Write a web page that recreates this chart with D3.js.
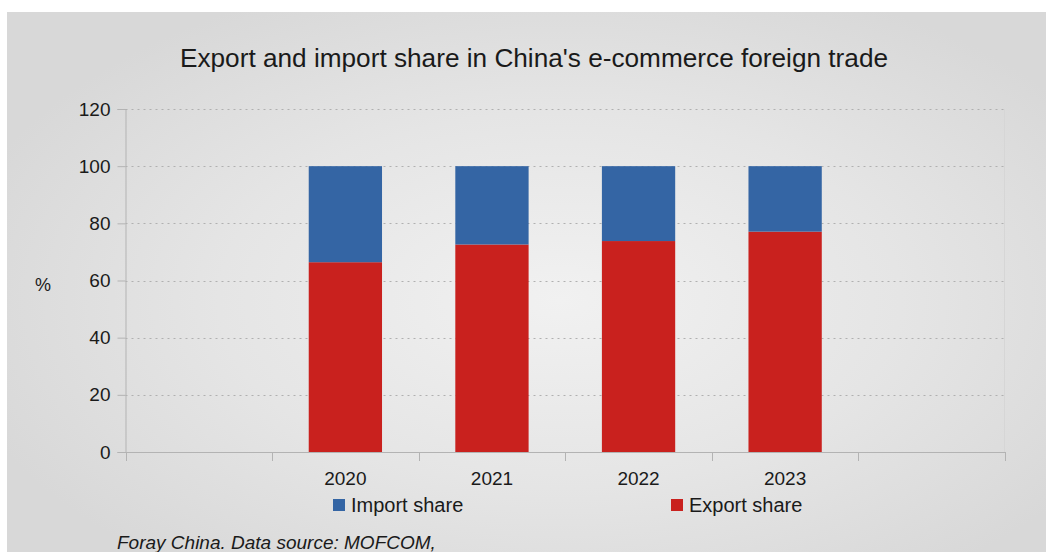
<!DOCTYPE html>
<html>
<head>
<meta charset="utf-8">
<script src="https://cdn.jsdelivr.net/npm/d3@7"></script>
<style>
  html, body { margin: 0; padding: 0; background: #ffffff; }
  svg { display: block; font-family: "Liberation Sans", Arial, sans-serif; }
</style>
</head>
<body>
<svg id="chart" width="1046" height="552"></svg>
<script>
// Category slots along the x axis (the outer slots stay empty)
const categories = ["", "2020", "2021", "2022", "2023", ""];
// Share of e-commerce foreign trade, %
const exportShare = [null, 66.4, 72.6, 73.8, 77.1, null];
const importShare = [null, 33.6, 27.4, 26.2, 22.9, null];
const yTicks = [0, 20, 40, 60, 80, 100, 120];
const seriesNames = ["Import share", "Export share"];
const seriesColors = ["#3465a4", "#c9211e"];

const svg = d3.select("#chart");
const W = 1046, H = 552;
const plot = { left: 125.5, right: 1005, top: 109, bottom: 452 };

const defs = svg.append("defs");
const bgGrad = defs.append("radialGradient")
  .attr("id", "bgGrad")
  .attr("gradientUnits", "userSpaceOnUse")
  .attr("cx", 560).attr("cy", 300).attr("r", 620)
  .attr("gradientTransform", "translate(560,300) scale(1,0.55) translate(-560,-300)");
bgGrad.append("stop").attr("offset", "0%").attr("stop-color", "#f1f1f1");
bgGrad.append("stop").attr("offset", "55%").attr("stop-color", "#e5e5e5");
bgGrad.append("stop").attr("offset", "100%").attr("stop-color", "#d8d8d8");

// Page background panel
svg.append("rect")
  .attr("x", 7).attr("y", 12)
  .attr("width", W - 7).attr("height", H - 12)
  .attr("fill", "url(#bgGrad)");

// Plot area
const x = d3.scaleBand()
  .domain(d3.range(categories.length))
  .range([plot.left, plot.right])
  .paddingInner(0).paddingOuter(0);

const y = d3.scaleLinear()
  .domain([0, 120])
  .range([plot.bottom, plot.top]);

// Horizontal dotted grid
svg.append("g")
  .selectAll("line")
  .data(yTicks.filter(d => d > 0))
  .join("line")
  .attr("x1", plot.left).attr("x2", plot.right)
  .attr("y1", d => Math.round(y(d)) + 0.5).attr("y2", d => Math.round(y(d)) + 0.5)
  .attr("stroke", "#b0b0b0")
  .attr("stroke-width", 1)
  .attr("stroke-dasharray", "2,4");

// Right plot border
svg.append("line")
  .attr("x1", plot.right - 0.5).attr("x2", plot.right - 0.5)
  .attr("y1", plot.top).attr("y2", plot.bottom)
  .attr("stroke", "#d6d6d6").attr("stroke-width", 1);

// Stacked bars
const stackData = categories.map((c, i) => ({ i, exp: exportShare[i], imp: importShare[i] }))
  .filter(d => d.exp != null);
const stack = d3.stack().keys(["exp", "imp"]);
const layers = stack(stackData);
const barW = x.bandwidth() * 0.5;

svg.append("g")
  .selectAll("g")
  .data(layers)
  .join("g")
  .attr("fill", (d, k) => k === 0 ? seriesColors[1] : seriesColors[0])
  .selectAll("rect")
  .data(d => d)
  .join("rect")
  .attr("x", d => x(d.data.i) + (x.bandwidth() - barW) / 2)
  .attr("y", d => y(d[1]))
  .attr("width", barW)
  .attr("height", d => y(d[0]) - y(d[1]));

// Y axis
const yAxis = svg.append("g")
  .attr("transform", `translate(${plot.left},0)`)
  .call(d3.axisLeft(y).tickValues(yTicks).tickSize(8).tickPadding(7).tickFormat(d3.format("d")));
yAxis.select(".domain").attr("stroke", "#b3b3b3");
yAxis.selectAll(".tick line").attr("stroke", "#b3b3b3");
yAxis.selectAll(".tick text")
  .attr("fill", "#1a1a1a")
  .style("font-size", "19px")
  .style("font-family", "'Liberation Sans', Arial, sans-serif");
yAxis.select(".domain").attr("d", `M-8,${plot.top}.5H0.5V${plot.bottom}.5H-8`);

// X axis: ticks at category boundaries
const boundaries = d3.range(categories.length + 1).map(i => plot.left + i * x.bandwidth());
const xAxis = svg.append("g");
xAxis.append("line")
  .attr("x1", plot.left).attr("x2", plot.right)
  .attr("y1", plot.bottom + 0.5).attr("y2", plot.bottom + 0.5)
  .attr("stroke", "#b3b3b3");
xAxis.selectAll("line.tk")
  .data(boundaries)
  .join("line")
  .attr("class", "tk")
  .attr("x1", d => Math.round(d) + 0.5).attr("x2", d => Math.round(d) + 0.5)
  .attr("y1", plot.bottom).attr("y2", plot.bottom + 9)
  .attr("stroke", "#b3b3b3");
xAxis.selectAll("text")
  .data(categories)
  .join("text")
  .attr("x", (d, i) => x(i) + x.bandwidth() / 2)
  .attr("y", 485)
  .attr("text-anchor", "middle")
  .attr("fill", "#1a1a1a")
  .style("font-size", "19px")
  .text(d => d);

// Axis unit label
svg.append("text")
  .attr("x", 43).attr("y", 291)
  .attr("text-anchor", "middle")
  .attr("fill", "#1a1a1a")
  .style("font-size", "18px")
  .text("%");

// Title
svg.append("text")
  .attr("x", 534).attr("y", 67)
  .attr("text-anchor", "middle")
  .attr("fill", "#1a1a1a")
  .style("font-size", "26.2px")
  .text("Export and import share in China's e-commerce foreign trade");

// Legend
const legendX = [333, 671];
const legend = svg.append("g");
seriesNames.forEach((name, k) => {
  legend.append("rect")
    .attr("x", legendX[k]).attr("y", 499)
    .attr("width", 12).attr("height", 12)
    .attr("fill", seriesColors[k]);
  legend.append("text")
    .attr("x", legendX[k] + 18).attr("y", 512)
    .attr("fill", "#1a1a1a")
    .style("font-size", "20px")
    .text(name);
});

// Source note
svg.append("text")
  .attr("x", 117).attr("y", 549)
  .attr("fill", "#1a1a1a")
  .style("font-size", "19px")
  .style("font-style", "italic")
  .text("Foray China. Data source: MOFCOM,");
</script>
</body>
</html>
